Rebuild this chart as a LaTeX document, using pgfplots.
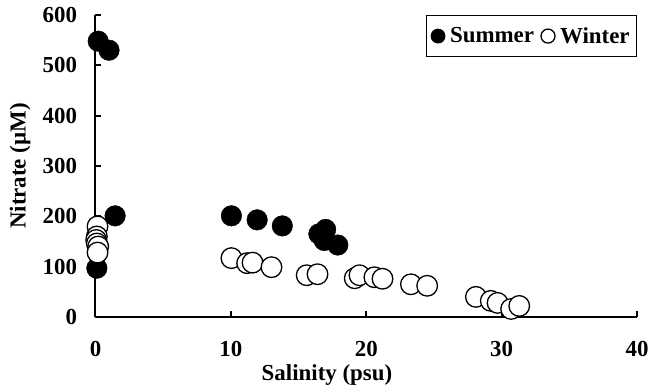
\documentclass[border=0pt]{standalone}
\usepackage{fontspec}
\setmainfont{Liberation Serif}
\usepackage{pgfplots}
\pgfplotsset{compat=1.18}
\begin{document}
\begin{tikzpicture}
\begin{axis}[
  scale only axis,
  width=541.5bp, height=302bp,
  xmin=0, xmax=40, ymin=0, ymax=600,
  axis x line=bottom, axis y line=left,
  axis line style={-, line width=2bp},
  xtick={0,10,20,30,40}, ytick={0,100,...,600},
  tick align=inside,
  major tick length=6bp,
  every tick/.style={black, line width=2bp},
  /pgf/number format/assume math mode=true,
  ticklabel style={font=\bfseries\fontsize{23}{26}\selectfont},
  xticklabel style={yshift=-21bp},
  yticklabel style={xshift=-15bp},
  label style={font=\bfseries\fontsize{23}{26}\selectfont},
  xlabel={Salinity (psu)},
  ylabel={Nitrate (µM)},
  xlabel style={at={(axis description cs:0.4275,0)}, anchor=center, yshift=-58bp},
  ylabel style={at={(axis description cs:-0.1394,0.5)}, anchor=center},
  clip=false,
  legend columns=2,
  legend style={at={(1,1)}, anchor=north east, draw=black, line width=0.8bp,
    font=\bfseries\fontsize{23}{26}\selectfont, inner xsep=5bp, inner ysep=10bp,
    /tikz/every odd column/.append style={column sep=3bp},
    /tikz/every even column/.append style={column sep=5bp}},
  legend image code/.code={\draw[#1, mark size=7bp] plot coordinates {(0.3cm,0cm)};},
]
\addplot[only marks, mark=*, mark size=10.3bp, black, fill=black] coordinates {
(0.2,548) (1.0,530) (1.45,201) (0.1,97)
(10.04,201) (11.94,193) (13.8,181)
(16.5,165) (17.0,174) (16.9,152) (17.9,143)
};
\addlegendentry{Summer}
\addplot[only marks, mark=*, mark size=10.3bp, black, line width=1.3bp, fill=white] coordinates {
(0.15,180) (0.1,160) (0.05,153) (0.1,146) (0.2,140) (0.15,128)
(10.04,117) (11.2,107) (11.6,108) (13.0,99)
(15.6,83) (16.4,85) (19.15,77) (19.5,83) (20.6,79) (21.2,76)
(23.3,65) (24.5,62) (28.1,40) (29.2,32) (29.7,28) (30.7,16) (31.3,22)
};
\addlegendentry{Winter}
\end{axis}
\pgfresetboundingbox
\path[use as bounding box] (-95.5bp,-75bp) rectangle (552.5bp,317bp);
\end{tikzpicture}
\end{document}
